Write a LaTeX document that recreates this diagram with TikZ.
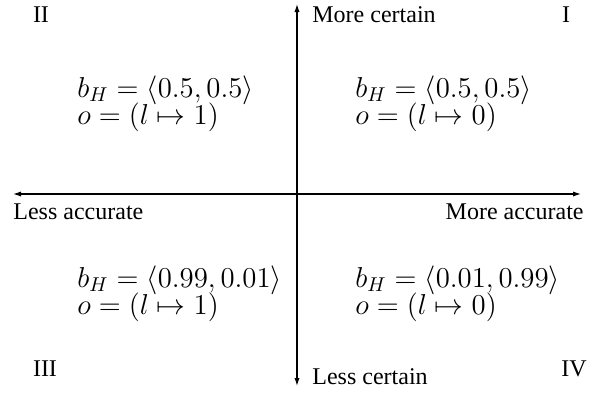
\documentclass[tikz,border=0pt]{standalone}
\usepackage[no-math]{fontspec}
\setmainfont{Liberation Serif}
\usetikzlibrary{arrows.meta}
\begin{document}
\begin{tikzpicture}[x=0.5pt,y=-0.5pt,
  lbl/.style={inner sep=0pt,font=\fontsize{12}{14}\selectfont},
  mth/.style={inner sep=0pt,anchor=base west,font=\fontsize{13.6}{16}\selectfont},
  axis/.style={line width=0.6pt,-{Latex[length=4pt,width=2.6pt]}}]
\useasboundingbox (0,0) rectangle (589,393);
\coordinate (c) at (297,194);
\coordinate (L) at (13,194);
\coordinate (R) at (581,194);
\coordinate (T) at (297,4);
\coordinate (B) at (297,386);
\draw[axis] (c) -- (L);
\draw[axis] (c) -- (R);
\draw[axis] (c) -- (T);
\draw[axis] (c) -- (B);
\node[lbl,anchor=base] (q2) at (41,22) {II};
\node[lbl,anchor=base] (q1) at (566,22) {I};
\node[lbl,anchor=base] (q3) at (45,376) {III};
\node[lbl,anchor=base] (q4) at (574,376) {IV};
\node[lbl,anchor=base west] (mc) at (312,22) {More certain};
\node[lbl,anchor=base west] (lc) at (312,384) {Less certain};
\node[lbl,anchor=base west] (la) at (13,219) {Less accurate};
\node[lbl,anchor=base east] (ma) at (584,219) {More accurate};
\node[mth] (a1) at (77,97) {$b_H = \langle 0.5, 0.5\rangle$};
\node[mth] (a2) at (77,124) {$o = (l \mapsto 1)$};
\node[mth] (b1) at (355,97) {$b_H = \langle 0.5, 0.5\rangle$};
\node[mth] (b2) at (355,124) {$o = (l \mapsto 0)$};
\node[mth] (c1) at (77,287) {$b_H = \langle 0.99, 0.01\rangle$};
\node[mth] (c2) at (77,314) {$o = (l \mapsto 1)$};
\node[mth] (d1) at (355,287) {$b_H = \langle 0.01, 0.99\rangle$};
\node[mth] (d2) at (355,314) {$o = (l \mapsto 0)$};
\end{tikzpicture}
\end{document}
